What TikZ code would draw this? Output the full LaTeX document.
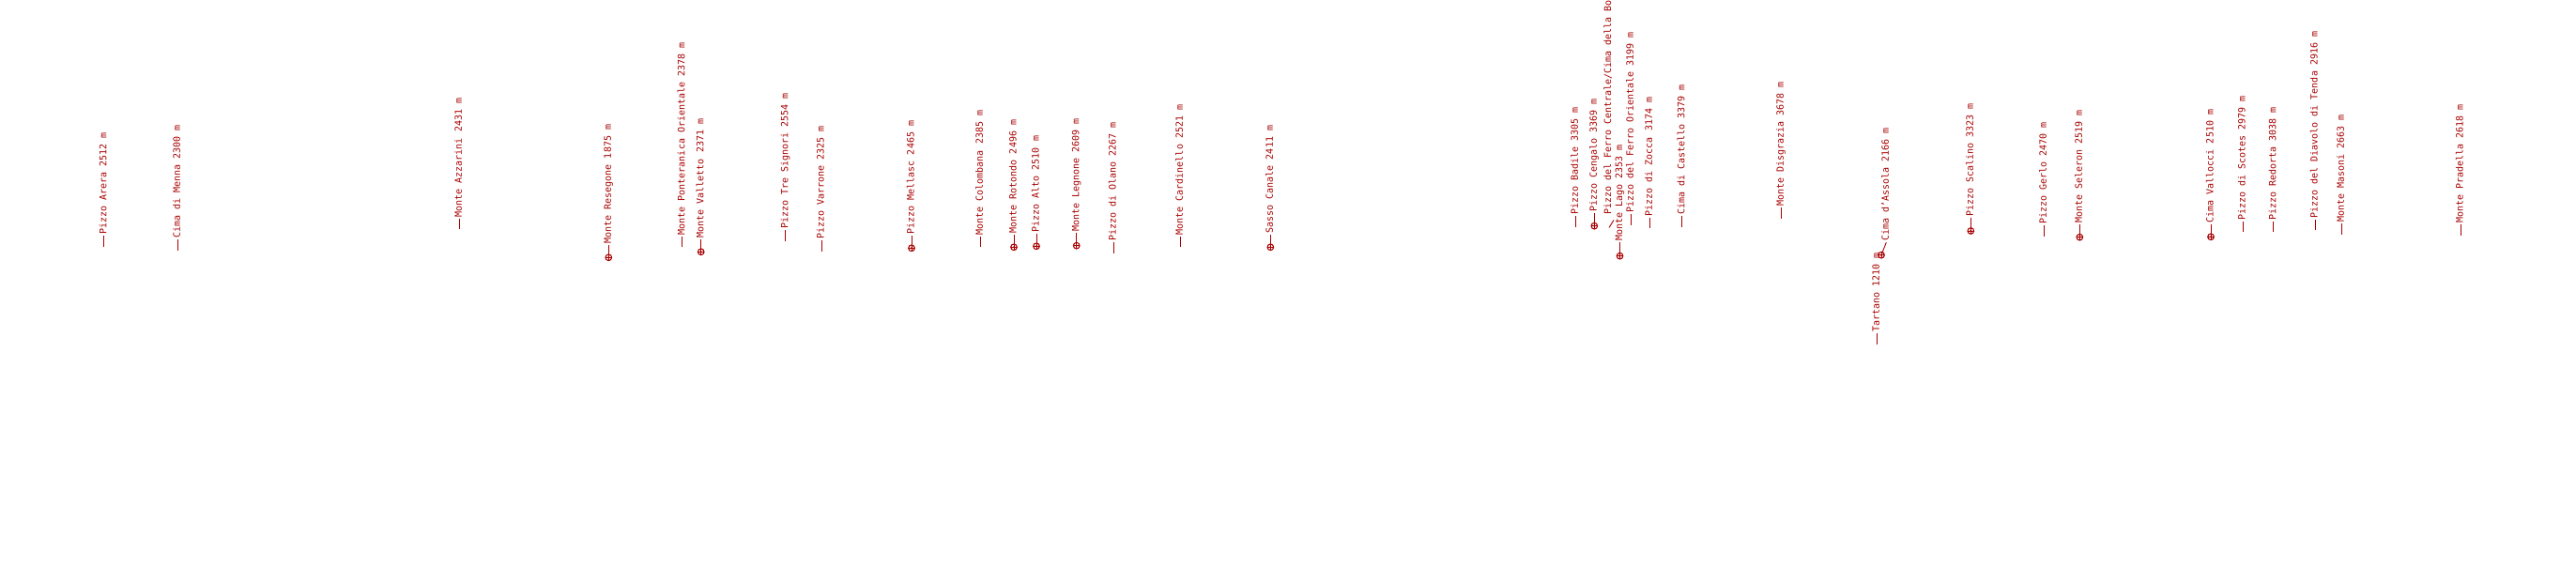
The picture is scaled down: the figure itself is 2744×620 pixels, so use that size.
\documentclass[tikz,border=0pt]{standalone}
\usepackage{fontspec}
\newfontfamily\dmono{DejaVu Sans Mono}
\definecolor{mred}{RGB}{168,0,0}
\tikzset{
  lbl/.style={rotate=90, anchor=west, inner sep=0pt, outer sep=0pt, text height=5.2pt, text depth=0pt,
              font=\fontsize{10}{12}\selectfont\dmono, text=mred},
  leader/.style={draw=mred, line width=0.9pt},
  mk/.style={circle, draw=mred, line width=1.1pt, minimum size=6.6pt, inner sep=0pt,
             path picture={\draw[mred, line width=0.9pt] (path picture bounding box.north) -- (path picture bounding box.south)
                           (path picture bounding box.west) -- (path picture bounding box.east);
                           \fill[mred] (path picture bounding box.center) circle (1.2pt);}}
}
% plain peak: name, x, y(bottom), text
\newcommand\pkplain[4]{%
  \coordinate (p#1) at (#2,#3);
  \node[lbl] (t#1) at (#2,#3-13) {#4};
  \draw[leader] (p#1) -- ([yshift=-1.5pt]t#1.west);
}
% peak with marker
\newcommand\pkmark[4]{%
  \coordinate (p#1) at (#2,#3);
  \node[lbl] (t#1) at (#2,#3-15) {#4};
  \draw[leader] (p#1) -- ([yshift=-1.5pt]t#1.west);
  \node[mk] (m#1) at (p#1) {};
}
\begin{document}
\begin{tikzpicture}[x=1pt,y=-1pt]
\useasboundingbox (0,0) rectangle (2744,620);
\fill[white] (0,0) rectangle (2744,620);
\clip (0,0) rectangle (2744,620);
\pkplain{a}{110.7}{262.7}{Pizzo Arera 2512 m}
\pkplain{b}{189.3}{266.7}{Cima di Menna 2300 m}
\pkplain{c}{489.3}{244.3}{Monte Azzarini 2431 m}
\pkmark{d}{648.3}{274.3}{Monte Resegone 1875 m}
\pkplain{e}{726.7}{263.3}{Monte Ponteranica Orientale 2378 m}
\pkmark{f}{746.7}{268.3}{Monte Valletto 2371 m}
\pkplain{g}{836.7}{256.7}{Pizzo Tre Signori 2554 m}
\pkplain{h}{875}{267.7}{Pizzo Varrone 2325 m}
\pkmark{i}{971}{264.3}{Pizzo Mellasc 2465 m}
\pkplain{j}{1044.3}{263.3}{Monte Colombana 2385 m}
\pkmark{k}{1080}{263.3}{Monte Rotondo 2496 m}
\pkmark{l}{1104}{262.3}{Pizzo Alto 2510 m}
\pkmark{m}{1146.7}{261.7}{Monte Legnone 2609 m}
\pkplain{n}{1186}{270}{Pizzo di Olano 2267 m}
\pkplain{o}{1257.3}{263.3}{Monte Cardinello 2521 m}
\pkmark{q}{1353.3}{263.3}{Sasso Canale 2411 m}
\pkplain{r}{1678.3}{241.7}{Pizzo Badile 3305 m}
\pkmark{s}{1698.3}{240.7}{Pizzo Cengalo 3369 m}
% Pizzo del Ferro Centrale (slanted leader)
\coordinate (pu) at (1714,242.5);
\coordinate (eu) at (1719,234.5);
\node[lbl] (tu) at (1713.5,229) {Pizzo del Ferro Centrale/Cima della Bo};
\draw[leader] (pu) -- (eu);
% Monte Lago
\coordinate (pv) at (1725.5,272.7);
\node[lbl] (tv) at (1725.5,256.7) {Monte Lago 2353 m};
\draw[leader] (pv) -- ([yshift=-1.5pt]tv.west);
\node[mk] (mv) at (pv) {};
\pkplain{w}{1737.3}{240}{Pizzo del Ferro Orientale 3199 m}
\pkplain{x}{1757.3}{243.3}{Pizzo di Zocca 3174 m}
\pkplain{y}{1791.7}{241.7}{Cima di Castello 3379 m}
\pkplain{z}{1897.3}{232.7}{Monte Disgrazia 3678 m}
\pkplain{ta}{1999.3}{366.7}{Tartano 1210 m}
% Cima d'Assola (slanted leader)
\coordinate (pab) at (2004,271.7);
\node[lbl] (tab) at (2009.3,256.7) {Cima d’Assola 2166 m};
\draw[leader] (pab) -- ([yshift=-1.5pt]tab.west);
\node[mk] (mab) at (pab) {};
\pkmark{ac}{2099.3}{246}{Pizzo Scalino 3323 m}
\pkplain{ad}{2177.3}{251.7}{Pizzo Gerlo 2470 m}
\pkmark{ae}{2215.3}{252.7}{Monte Seleron 2519 m}
\pkmark{af}{2355}{252.3}{Cima Vallocci 2510 m}
\pkplain{ag}{2389}{247.5}{Pizzo di Scotes 2979 m}
\pkplain{ah}{2421.7}{247.5}{Pizzo Redorta 3038 m}
\pkplain{ai}{2466}{245.5}{Pizzo del Diavolo di Tenda 2916 m}
\pkplain{aj}{2494.3}{250}{Monte Masoni 2663 m}
\pkplain{ak}{2621}{251}{Monte Pradella 2618 m}
\end{tikzpicture}
\end{document}
